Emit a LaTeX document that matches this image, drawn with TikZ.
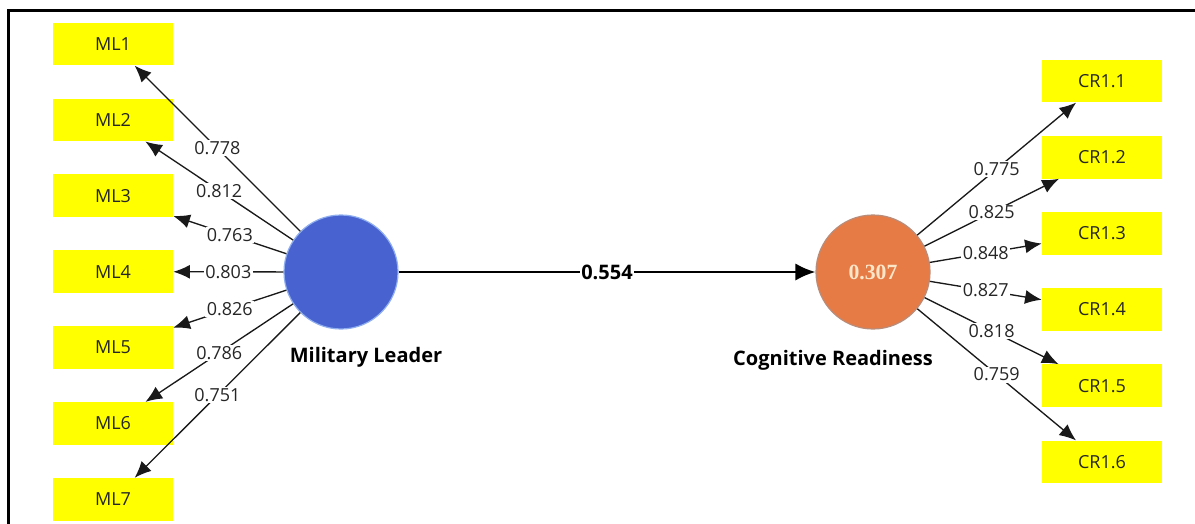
\documentclass[tikz,border=0pt]{standalone}
\usepackage{fontspec}
\setmainfont{Open Sans}
\newfontfamily\serifb{Liberation Serif}
\usetikzlibrary{arrows.meta}
\definecolor{indyellow}{HTML}{FFFF00}
\definecolor{latblue}{HTML}{4863CF}
\definecolor{latblueedge}{HTML}{8FAEEF}
\definecolor{latorange}{HTML}{E67B46}
\definecolor{latorangeedge}{HTML}{B98C7A}
\definecolor{creamtext}{HTML}{FBE6C8}
\begin{document}
\begin{tikzpicture}[x=0.75pt,y=-0.75pt,
  ind/.style={fill=indyellow, minimum width=90pt, minimum height=32pt, inner sep=0pt,
    font=\fontsize{13.5}{15}\selectfont, text=black!85},
  lat/.style={circle, minimum size=85.5pt, inner sep=0pt, line width=0.9pt},
  ld/.style={-{Latex[length=12.5pt,width=10.5pt]}, line width=1pt, black!90},
  lab/.style={fill=white, inner sep=1pt, font=\fontsize{13.5}{15}\selectfont, text=black!85, pos=0.5},
  ttl/.style={font=\fontsize{15}{18}\bfseries\selectfont, text=black}
]
\useasboundingbox (0,0) rectangle (1195,524);
\draw[line width=1.6pt] (8.5,524) -- (8.5,10.5) -- (1195,10.5);

% indicators
\foreach \i in {1,...,7}{
  \node[ind] (ML\i) at (113,{44+75.9*(\i-1)}) {ML\i};
}
\foreach \i in {1,...,6}{
  \node[ind] (CR\i) at (1102,{81+76.2*(\i-1)}) {CR1.\i};
}

% latent variables
\node[lat, fill=latblue, draw=latblueedge] (MLc) at (341,272) {};
\node[lat, fill=latorange, draw=latorangeedge] (CRc) at (873,272)
  {\serifb\bfseries\fontsize{16.3}{19}\selectfont\color{creamtext}0.307};
\node[ttl] (MLt) at (366,357) {Military Leader};
\node[ttl] (CRt) at (833,360) {Cognitive Readiness};

% structural path
\draw[-{Latex[length=15pt,width=13pt]}, line width=1.8pt] (MLc) --
  node[lab, font=\fontsize{15}{18}\bfseries\selectfont, text=black] {0.554} (CRc);

% outer loadings
\draw[ld] (MLc) -- node[lab] {0.778} (ML1);
\draw[ld] (MLc) -- node[lab] {0.812} (ML2);
\draw[ld] (MLc) -- node[lab] {0.763} (ML3);
\draw[ld] (MLc) -- node[lab] {0.803} (ML4);
\draw[ld] (MLc) -- node[lab] {0.826} (ML5);
\draw[ld] (MLc) -- node[lab] {0.786} (ML6);
\draw[ld] (MLc) -- node[lab] {0.751} (ML7);

\draw[ld] (CRc) -- node[lab] {0.775} (CR1);
\draw[ld] (CRc) -- node[lab] {0.825} (CR2);
\draw[ld] (CRc) -- node[lab] {0.848} (CR3);
\draw[ld] (CRc) -- node[lab] {0.827} (CR4);
\draw[ld] (CRc) -- node[lab] {0.818} (CR5);
\draw[ld] (CRc) -- node[lab] {0.759} (CR6);
\end{tikzpicture}
\end{document}
